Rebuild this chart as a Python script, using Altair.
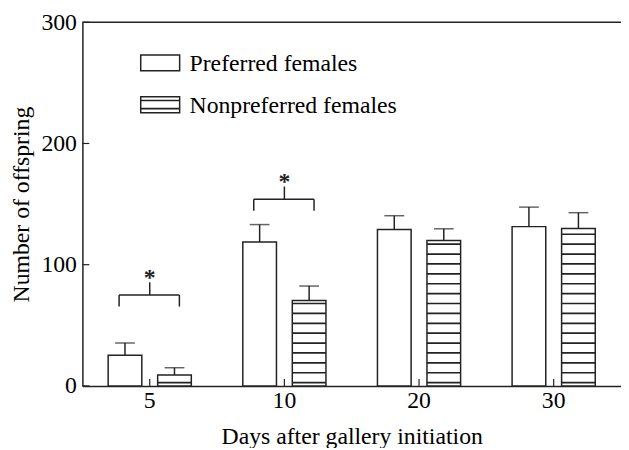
import altair as alt
import pandas as pd
import numpy as np

# ---- data ----
days = ["5", "10", "20", "30"]
groups = ["Preferred females", "Nonpreferred females"]
preferred = [25.3, 118.7, 129.0, 131.4]
preferred_err = [10.1, 14.4, 11.4, 16.1]
nonpreferred = [9.0, 70.5, 120.0, 129.8]
nonpreferred_err = [6.0, 11.9, 9.6, 13.1]
sig_days = ["5", "10"]
sig_level = [75.0, 154.0]
y_ticks = [0, 100, 200, 300]

W, H = 545, 368
INK = "#222222"
FONT = "Liberation Serif, Tinos, Noto Serif, DejaVu Serif, FreeSerif, Nimbus Roman, Times, serif"
FS = 24

rows = []
for d, v, e in zip(days, preferred, preferred_err):
    rows.append({"day": d, "group": groups[0], "value": v, "upper": v + e})
for d, v, e in zip(days, nonpreferred, nonpreferred_err):
    rows.append({"day": d, "group": groups[1], "value": v, "upper": v + e})
bars_df = pd.DataFrame(rows)

# horizontal hatch lines inside the nonpreferred bars (pattern decoration)
hatch_rows = []
for d, v in zip(days, nonpreferred):
    for yl in np.arange(2.0, v - 1.2, 8.16):
        hatch_rows.append({"day": d, "group": groups[1], "y0": yl, "y1": yl + 1.4})
hatch_df = pd.DataFrame(hatch_rows)

sig_df = pd.DataFrame({"day": sig_days, "level": sig_level})
sig_df["leg"] = sig_df["level"] - 9.5
sig_df["stem"] = sig_df["level"] + 10.5
sig_df["star"] = sig_df["level"] + 19.0

days_df = pd.DataFrame({"day": days})
yt_df = pd.DataFrame({"t": y_ticks})

xscale = alt.Scale(domain=days, paddingInner=0, paddingOuter=0)
xaxis = alt.Axis(title="Days after gallery initiation", labelAngle=0, ticks=False,
                 domainColor=INK, domainWidth=1.5, labelPadding=3, titlePadding=12)
yscale = alt.Scale(domain=[0, 300], nice=False)
yaxis = alt.Axis(title="Number of offspring", values=y_ticks, ticks=False, grid=False,
                 domainColor=INK, domainWidth=1.5, labelPadding=6, titlePadding=8)
xoff = alt.XOffset("group:N", scale=alt.Scale(domain=groups, paddingInner=0.32, paddingOuter=0.52))


def X():
    return alt.X("day:N", scale=xscale, axis=xaxis)


def Y(field):
    return alt.Y(field, scale=yscale, axis=yaxis)


bars = alt.Chart(bars_df).mark_bar(fill="white", stroke=INK, strokeWidth=1.5).encode(
    x=X(), xOffset=xoff, y=Y("value:Q")
)

hatch = alt.Chart(hatch_df).mark_bar(fill=INK, strokeWidth=0).encode(
    x=X(), xOffset=xoff, y=Y("y0:Q"), y2="y1:Q"
)

whisk = alt.Chart(bars_df).mark_rule(color=INK, strokeWidth=1.5).encode(
    x=X(), xOffset=xoff, y=Y("value:Q"), y2="upper:Q"
)

caps = alt.Chart(bars_df).mark_tick(color=INK, thickness=1.5, size=20).encode(
    x=X(), xOffset=xoff, y=Y("upper:Q")
)

xticks = alt.Chart(days_df).mark_rule(color=INK, strokeWidth=1.2).encode(
    x=X(), y=alt.value(H), y2=alt.value(H - 7)
)

yticks = alt.Chart(yt_df).mark_rule(color=INK, strokeWidth=1.2).encode(
    y=Y("t:Q"), x=alt.value(0), x2=alt.value(7)
)

topline = alt.Chart(days_df.head(1)).mark_rule(color=INK, strokeWidth=1.5).encode(
    y=alt.Y(datum=300, scale=yscale, axis=yaxis), x=alt.value(0), x2=alt.value(W)
)

br_h = alt.Chart(sig_df).mark_rule(color=INK, strokeWidth=1.5, xOffset=-31, x2Offset=30).encode(
    x=X(), x2="day:N", y=Y("level:Q")
)
br_l = alt.Chart(sig_df).mark_rule(color=INK, strokeWidth=1.5, xOffset=-31).encode(
    x=X(), y=Y("leg:Q"), y2="level:Q"
)
br_r = alt.Chart(sig_df).mark_rule(color=INK, strokeWidth=1.5, xOffset=30).encode(
    x=X(), y=Y("leg:Q"), y2="level:Q"
)
br_s = alt.Chart(sig_df).mark_rule(color=INK, strokeWidth=1.5).encode(
    x=X(), y=Y("level:Q"), y2="stem:Q"
)
stars = alt.Chart(sig_df).mark_text(text="*", font=FONT, fontSize=24, fontWeight="bold",
                                    color=INK, baseline="middle", dy=6).encode(
    x=X(), y=Y("star:Q")
)

# ---- manual legend ----
leg1 = pd.DataFrame({"label": [groups[0]]})
leg2 = pd.DataFrame({"label": [groups[1]]})
lx0, lx1 = 59, 98.4
sym1 = alt.Chart(leg1).mark_rect(fill="white", stroke=INK, strokeWidth=1.5).encode(
    x=alt.value(lx0), x2=alt.value(lx1), y=alt.value(33.1), y2=alt.value(49.1)
)
sym2 = alt.Chart(leg2).mark_rect(fill="white", stroke=INK, strokeWidth=1.5).encode(
    x=alt.value(lx0), x2=alt.value(lx1), y=alt.value(75.5), y2=alt.value(91.5)
)
sym2a = alt.Chart(leg2).mark_rule(color=INK, strokeWidth=1.6).encode(
    x=alt.value(lx0), x2=alt.value(lx1), y=alt.value(79.2)
)
sym2b = alt.Chart(leg2).mark_rule(color=INK, strokeWidth=1.6).encode(
    x=alt.value(lx0), x2=alt.value(lx1), y=alt.value(87.4)
)
txt1 = alt.Chart(leg1).mark_text(align="left", baseline="alphabetic", font=FONT,
                                 fontSize=FS, color="black").encode(
    x=alt.value(108.4), y=alt.value(49.8), text="label:N"
)
txt2 = alt.Chart(leg2).mark_text(align="left", baseline="alphabetic", font=FONT,
                                 fontSize=FS, color="black").encode(
    x=alt.value(108.4), y=alt.value(91.5), text="label:N"
)

chart = alt.layer(
    bars, hatch, whisk, caps, xticks, yticks, topline,
    br_h, br_l, br_r, br_s, stars,
    sym1, sym2, sym2a, sym2b, txt1, txt2
).properties(
    width=W, height=H,
    padding={"left": 75.3, "top": 11.8, "right": 0, "bottom": 60},
    autosize=alt.AutoSizeParams(type="none"),
).configure_view(stroke=None).configure_axis(
    labelFont=FONT, titleFont=FONT, labelFontSize=FS, titleFontSize=FS,
    labelColor="black", titleColor="black", titleFontWeight="normal"
)

chart.save("out.html", embed_options={"renderer": "svg", "actions": False})
